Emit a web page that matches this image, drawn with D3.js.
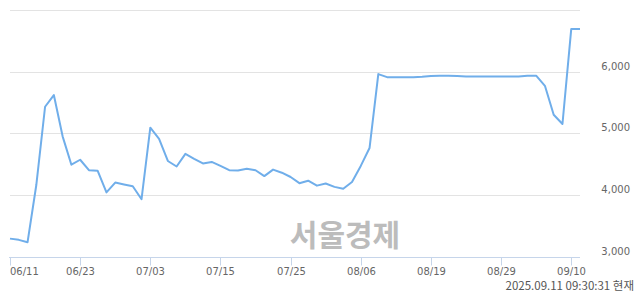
<!DOCTYPE html>
<html>
<head>
<meta charset="utf-8">
<script src="https://cdn.jsdelivr.net/npm/d3@7"></script>
<style>
    body { margin: 0; background: #fff; }
    svg { display: block; }
    .grid line { stroke: #e3e3e3; stroke-width: 1; }
    .price { fill: none; stroke: #70aeea; stroke-width: 2; stroke-linejoin: round; }
    .axis-line, .tick-mark { stroke: #c6d5ea; stroke-width: 1; }
    .label { font-family: 'DejaVu Sans', sans-serif; font-size: 10px; fill: #666; }
    .stamp { font-family: 'Noto Sans CJK KR', 'Noto Sans', sans-serif; font-size: 11.5px; fill: #555; }
    .mark { font-family: 'Noto Sans CJK KR', sans-serif; font-size: 30px; font-weight: bold; fill: #bcbcbc; }
</style>
</head>
<body>
<svg id="chart" width="640" height="294"></svg>
<script>
const dates = [
    '06/11', '06/12', '06/13', '06/16', '06/17', '06/18', '06/19', '06/20',
    '06/23', '06/24', '06/25', '06/26', '06/27', '06/30', '07/01', '07/02',
    '07/03', '07/04', '07/07', '07/08', '07/09', '07/10', '07/11', '07/14',
    '07/15', '07/16', '07/17', '07/18', '07/21', '07/22', '07/23', '07/24',
    '07/25', '07/28', '07/29', '07/30', '07/31', '08/01', '08/04', '08/05',
    '08/06', '08/07', '08/08', '08/11', '08/12', '08/13', '08/14', '08/18',
    '08/19', '08/20', '08/21', '08/22', '08/25', '08/26', '08/27', '08/28',
    '08/29', '09/01', '09/02', '09/03', '09/04', '09/05', '09/08', '09/09',
    '09/10', '09/11'
];

const prices = [
    3290, 3270, 3230, 4160, 5430, 5620, 4950, 4490,
    4570, 4400, 4390, 4040, 4200, 4170, 4140, 3930,
    5090, 4910, 4550, 4460, 4665, 4585, 4510, 4535,
    4470, 4400, 4395, 4425, 4400, 4305, 4410, 4360,
    4290, 4190, 4230, 4150, 4185, 4130, 4100, 4210,
    4470, 4760, 5960, 5910, 5910, 5910, 5910, 5915,
    5930, 5935, 5935, 5930, 5920, 5920, 5920, 5920,
    5920, 5920, 5920, 5935, 5935, 5770, 5300, 5150,
    6690, 6690
];

const tickDates = ['06/11', '06/23', '07/03', '07/15', '07/25', '08/06', '08/19', '08/29', '09/10'];
const priceTicks = [3000, 4000, 5000, 6000, 7000];
const priceLabels = [3000, 4000, 5000, 6000];

const watermark = '서울경제';
const stamp = '2025.09.11 09:30:31 현재';

let svg = d3.select('#chart');

let x = d3.scalePoint()
    .domain(dates)
    .range([10, 580]);

let y = d3.scaleLinear()
    .domain([3000, 7000])
    .range([256.5, 10]);

let fmt = d3.format(',');

function crisp(v) {
    return Math.round(v) + 0.5;
}

function drawGrid() {
    svg.append('g')
        .classed('grid', true)
        .selectAll('line')
        .data(priceTicks.filter(d => d > 3000))
        .join('line')
        .attr('x1', 10)
        .attr('x2', 580)
        .attr('y1', d => crisp(y(d)))
        .attr('y2', d => crisp(y(d)));

    svg.append('g')
        .selectAll('text')
        .data(priceLabels)
        .join('text')
        .classed('label', true)
        .attr('x', 630)
        .attr('y', d => y(d) - 2)
        .attr('text-anchor', 'end')
        .text(d => fmt(d));
}

function drawWatermark() {
    svg.append('text')
        .classed('mark', true)
        .attr('x', 345)
        .attr('y', 246)
        .attr('text-anchor', 'middle')
        .text(watermark);
}

function drawLine() {
    let line = d3.line()
        .x((d, i) => x(dates[i]))
        .y(d => y(d));

    svg.append('path')
        .datum(prices)
        .classed('price', true)
        .attr('d', line);
}

function drawAxis() {
    let base = crisp(y(3000));

    svg.append('line')
        .classed('axis-line', true)
        .attr('x1', 9)
        .attr('x2', 580)
        .attr('y1', base)
        .attr('y2', base);

    let g = svg.append('g')
        .selectAll('g')
        .data(tickDates)
        .join('g')
        .attr('transform', d => 'translate(' + crisp(x(d)) + ',0)');

    g.append('line')
        .classed('tick-mark', true)
        .attr('y1', base)
        .attr('y2', base + 8);

    g.append('text')
        .classed('label', true)
        .attr('y', 275)
        .attr('text-anchor', (d, i) => i === 0 ? 'start' : 'middle')
        .attr('dx', (d, i) => i === 0 ? -0.5 : 0)
        .text(d => d);
}

function drawStamp() {
    svg.append('text')
        .classed('stamp', true)
        .attr('x', 634)
        .attr('y', 290)
        .attr('text-anchor', 'end')
        .text(stamp);
}

drawGrid();
drawWatermark();
drawLine();
drawAxis();
drawStamp();
</script>
</body>
</html>
